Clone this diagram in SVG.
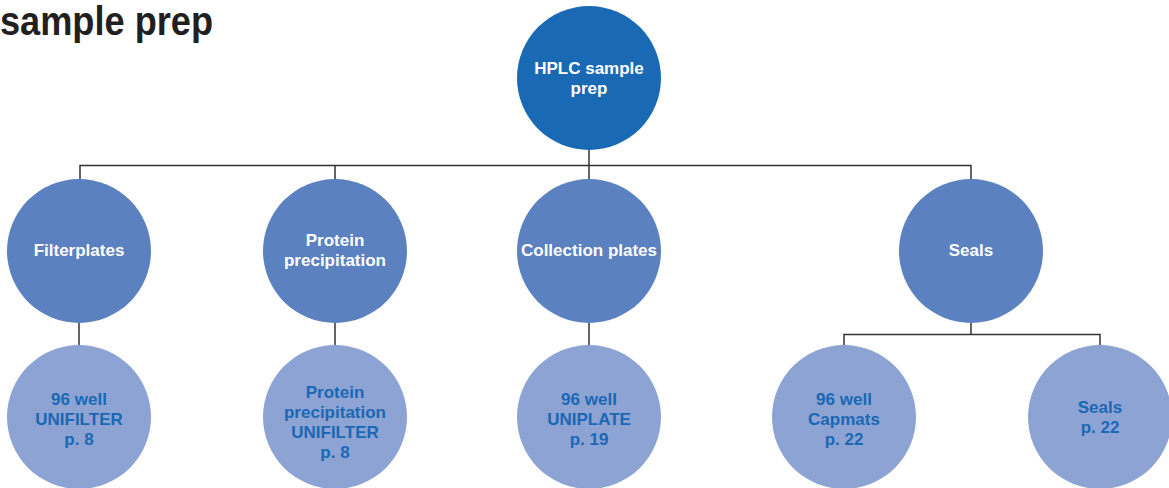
<svg xmlns="http://www.w3.org/2000/svg" width="1169" height="488" viewBox="0 0 1169 488">
<style>
.c0{fill:#1a69b4}
.c1{fill:#5b81c0}
.c2{fill:#8ca3d3}
.t{font-family:"Liberation Sans",Arial,sans-serif;font-weight:bold;font-size:17px;text-anchor:middle}
.w{fill:#ffffff}
.b{fill:#1a68b3}
.ln{stroke:#333333;stroke-width:1.5;fill:none}
</style>
<rect width="1169" height="488" fill="#ffffff"/>
<text x="0" y="35" font-family="'Liberation Sans',Arial,sans-serif" font-weight="bold" font-size="40" fill="#231f20" textLength="213" lengthAdjust="spacingAndGlyphs">sample prep</text>
<g id="connectors">
<path class="ln" d="M589 150V165.5M80 179V165.5H971V179M335 165.5V179M589 165.5V179"/>
<path class="ln" d="M79 323V346M335 323V346M589 323V346"/>
<path class="ln" d="M971 323V334.5M844 346V334.5H1100V346"/>
</g>
<g id="hplc"><circle class="c0" cx="589" cy="78" r="72"/><text class="t w" x="589" y="74">HPLC sample</text><text class="t w" x="589" y="94">prep</text></g>
<g id="filterplates"><circle class="c1" cx="79" cy="251" r="72"/><text class="t w" x="79" y="256">Filterplates</text></g>
<g id="protein"><circle class="c1" cx="335" cy="251" r="72"/><text class="t w" x="335" y="246">Protein</text><text class="t w" x="335" y="266">precipitation</text></g>
<g id="collection"><circle class="c1" cx="589" cy="251" r="72"/><text class="t w" x="589" y="256">Collection plates</text></g>
<g id="seals"><circle class="c1" cx="971" cy="251" r="72"/><text class="t w" x="971" y="256">Seals</text></g>
<g id="unifilter"><circle class="c2" cx="79" cy="417" r="72"/><text class="t b" x="79" y="405">96 well</text><text class="t b" x="79" y="425">UNIFILTER</text><text class="t b" x="79" y="445">p. 8</text></g>
<g id="ppunifilter"><circle class="c2" cx="335" cy="417" r="72"/><text class="t b" x="335" y="398">Protein</text><text class="t b" x="335" y="418">precipitation</text><text class="t b" x="335" y="438">UNIFILTER</text><text class="t b" x="335" y="458">p. 8</text></g>
<g id="uniplate"><circle class="c2" cx="589" cy="417" r="72"/><text class="t b" x="589" y="405">96 well</text><text class="t b" x="589" y="425">UNIPLATE</text><text class="t b" x="589" y="445">p. 19</text></g>
<g id="capmats"><circle class="c2" cx="844" cy="417" r="72"/><text class="t b" x="844" y="405">96 well</text><text class="t b" x="844" y="425">Capmats</text><text class="t b" x="844" y="445">p. 22</text></g>
<g id="sealsp22"><circle class="c2" cx="1100" cy="417" r="72"/><text class="t b" x="1100" y="413">Seals</text><text class="t b" x="1100" y="433">p. 22</text></g>
</svg>
